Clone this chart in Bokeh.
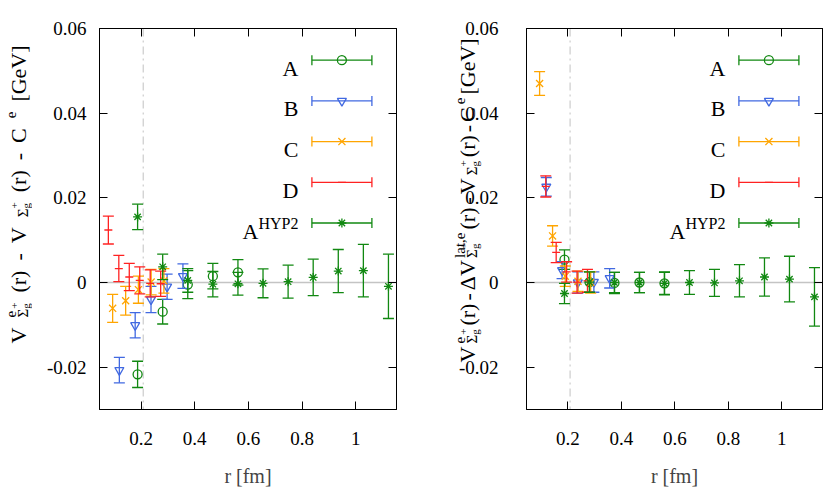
import math
from bokeh.plotting import figure
from bokeh.models import (Range1d, FixedTicker, CustomJSTickFormatter, LinearAxis,
                          Span, Label)
from bokeh.layouts import row
from bokeh.embed import file_html
from bokeh.resources import INLINE

# ---------------- data ----------------
r_A = [0.187, 0.2805, 0.374, 0.4675, 0.561]
r_B = [0.119, 0.178, 0.237, 0.297, 0.356]
r_C = [0.094, 0.1425, 0.190, 0.2375, 0.285]
r_D = [0.078, 0.117, 0.156, 0.195, 0.234, 0.273]
r_D_right = [0.117, 0.156, 0.195, 0.234, 0.273]
r_H = [0.187, 0.2805, 0.374, 0.4675, 0.561, 0.6545, 0.748, 0.8415, 0.935, 1.0285, 1.122]

# left panel
yA_L = [-0.0217, -0.0069, -0.0005, 0.0015, 0.0024]
eA_L = [0.0031, 0.0029, 0.0033, 0.0030, 0.0030]
yB_L = [-0.0207, -0.0101, -0.0040, -0.0010, 0.0015]
eB_L = [0.0030, 0.0030, 0.0031, 0.0030, 0.0029]
yC_L = [-0.0061, -0.0043, -0.0017, 0.0001, 0.0004]
eC_L = [0.0033, 0.0034, 0.0032, 0.0030, 0.0029]
yD_L = [0.0124, 0.0033, 0.0013, 0.0005, -0.0002, -0.0003]
eD_L = [0.0033, 0.0031, 0.0032, 0.0032, 0.0032, 0.0030]
yH_L = [0.0155, 0.0037, 0.0005, -0.0004, -0.0003, -0.0002, 0.0002, 0.0012, 0.0027, 0.0028, -0.0009]
eH_L = [0.0030, 0.0030, 0.0028, 0.0030, 0.0027, 0.0034, 0.0039, 0.0043, 0.0051, 0.0062, 0.0076]

# right panel
yA_R = [0.0054, 0.0001, -0.0001, 0.0000, -0.0002]
eA_R = [0.0023, 0.0024, 0.0025, 0.0024, 0.0026]
yB_R = [0.0226, 0.0029, 0.0000, 0.0001, 0.0010]
eB_R = [0.0022, 0.0020, 0.0025, 0.0024, 0.0023]
yC_R = [0.0470, 0.0110, 0.0015, 0.0003, 0.0000]
eC_R = [0.0028, 0.0024, 0.0024, 0.0024, 0.0025]
yD_R = [0.0227, 0.0071, 0.0025, 0.0001, 0.0004]
eD_R = [0.0025, 0.0024, 0.0024, 0.0026, 0.0027]
yH_R = [-0.0026, 0.0001, 0.0000, 0.0000, -0.0002, 0.0000, -0.0001, 0.0004, 0.0013, 0.0008, -0.0034]
eH_R = [0.0024, 0.0024, 0.0024, 0.0024, 0.0027, 0.0028, 0.0032, 0.0038, 0.0045, 0.0054, 0.0069]

x_ticks = [0.2, 0.4, 0.6, 0.8, 1.0]
y_ticks = [-0.02, 0.0, 0.02, 0.04, 0.06]
y_tick_labels = ["-0.02", "0", "0.02", "0.04", "0.06"]
cut_r = 0.208

# ---------------- styles ----------------
FONT = "Liberation Serif"
COL = {"A": "#118811", "B": "#4169e1", "C": "#ffa500", "D": "#ff2222", "H": "#118811"}
MARK = {"A": "circle", "B": "inverted_triangle", "C": "x", "D": "dash", "H": "asterisk"}
MSIZE = {"A": 9, "B": 9, "C": 10, "D": 8, "H": 9}

X0, X1 = 0.045, 1.152
Y0, Y1 = -0.03, 0.06
H_FIG = 498
TOP, BOT = 28, 89
FRAME_H = H_FIG - TOP - BOT

W = {'V': .722, 'e': .444, '(': .333, 'r': .333, ')': .333, ' ': .25, '-': .333, 'C': .667,
     '[': .333, 'G': .722, ']': .333, 'Σ': .592, 'g': .5, '+': .564, 'Δ': .612, 'l': .278,
     'a': .444, 't': .278, ',': .25, 'H': .722, 'Y': .722, 'P': .556, '2': .5, 'A': .722}


def tw(s, size):
    return sum(W.get(c, .5) for c in s) * size


def no_frame_align(f):
    if "frame_align" in f.properties():
        f.frame_align = False


def style_axis(ax, ticks, labels=True):
    ax.ticker = FixedTicker(ticks=ticks, minor_ticks=[])
    ax.major_tick_in = 8
    ax.major_tick_out = 0
    ax.minor_tick_in = 0
    ax.minor_tick_out = 0
    ax.axis_line_color = "black"
    ax.major_tick_line_color = "black"
    ax.axis_line_width = 1
    if labels:
        ax.formatter = CustomJSTickFormatter(code="return String(parseFloat(tick.toFixed(4)));")
        ax.major_label_text_font = FONT
        ax.major_label_text_font_size = "19px"
        ax.major_label_text_color = "black"
    else:
        ax.major_label_text_font_size = "0px"
        ax.major_label_text_color = None
        ax.major_label_standoff = 0


def make_fig(width, bl, br, ylabels=True):
    p = figure(width=width, height=H_FIG, x_range=Range1d(X0, X1), y_range=Range1d(Y0, Y1),
               output_backend="svg", toolbar_location=None,
               min_border_left=bl, min_border_right=br, min_border_top=TOP, min_border_bottom=BOT)
    no_frame_align(p)
    p.grid.visible = False
    p.outline_line_color = "black"
    p.outline_line_width = 1
    p.background_fill_color = "white"
    p.border_fill_color = "white"
    style_axis(p.xaxis[0], x_ticks)
    style_axis(p.yaxis[0], y_ticks, labels=ylabels)
    p.xaxis[0].major_label_standoff = 22
    if ylabels:
        p.yaxis[0].major_label_standoff = 13
    p.xaxis[0].axis_label = "r [fm]"
    p.xaxis[0].axis_label_text_font = FONT
    p.xaxis[0].axis_label_text_font_size = "20px"
    p.xaxis[0].axis_label_text_font_style = "normal"
    p.xaxis[0].axis_label_standoff = 17
    top = LinearAxis()
    style_axis(top, x_ticks, labels=False)
    p.add_layout(top, "above")
    right = LinearAxis()
    style_axis(right, y_ticks, labels=False)
    p.add_layout(right, "right")
    p.add_layout(Span(location=0, dimension="width", line_color="#c4c4c4", line_width=1.5, level="underlay"))
    p.add_layout(Span(location=cut_r, dimension="height", line_color="#cccccc", line_width=1.2,
                      line_dash="8 4 2 4", level="underlay"))
    return p


def make_label_fig(width):
    f = figure(width=width, height=H_FIG, x_range=Range1d(0, width), y_range=Range1d(0, H_FIG),
               output_backend="svg", toolbar_location=None, x_axis_location=None, y_axis_location=None,
               min_border_left=0, min_border_right=0, min_border_top=0, min_border_bottom=0)
    no_frame_align(f)
    f.grid.visible = False
    f.outline_line_color = None
    f.background_fill_color = "white"
    f.border_fill_color = "white"
    return f


def add_series(p, key, r, y, e):
    c = COL[key]
    lo = [a - b for a, b in zip(y, e)]
    hi = [a + b for a, b in zip(y, e)]
    p.segment(x0=r, y0=lo, x1=r, y1=hi, line_color=c, line_width=1.3)
    p.scatter(x=r, y=lo, marker="dash", size=11, line_color=c, line_width=1.3)
    p.scatter(x=r, y=hi, marker="dash", size=11, line_color=c, line_width=1.3)
    if key in ("A", "B"):
        p.scatter(x=r, y=y, marker=MARK[key], size=MSIZE[key], fill_color=None, line_color=c, line_width=1.3)
    else:
        p.scatter(x=r, y=y, marker=MARK[key], size=MSIZE[key], line_color=c, line_width=1.3)


def add_legend(p, frame_w):
    keys = ["A", "B", "C", "D", "H"]
    fw = X1 - X0
    fh = Y1 - Y0
    for k, key in enumerate(keys):
        c = COL[key]
        yy = Y1 - (31.7 + 40.7 * k) / FRAME_H * fh
        xa = X0 + 212.4 / frame_w * fw
        xb = X0 + 272.4 / frame_w * fw
        xm = 0.5 * (xa + xb)
        xt = X0 + 199.0 / frame_w * fw
        p.segment(x0=[xa], y0=[yy], x1=[xb], y1=[yy], line_color=c, line_width=1.3)
        p.scatter(x=[xa, xb], y=[yy, yy], marker="dash", angle=math.pi / 2, size=10, line_color=c, line_width=1.3)
        if key in ("A", "B"):
            p.scatter(x=[xm], y=[yy], marker=MARK[key], size=MSIZE[key], fill_color=None, line_color=c, line_width=1.3)
        else:
            p.scatter(x=[xm], y=[yy], marker=MARK[key], size=MSIZE[key], line_color=c, line_width=1.3)
        if key != "H":
            p.add_layout(Label(x=xt, y=yy, text=key, text_align="right", text_baseline="alphabetic",
                               y_offset=-8, text_font=FONT, text_font_size="22px", text_color="black"))
        else:
            p.add_layout(Label(x=xt, y=yy, text="HYP2", text_align="right", text_baseline="alphabetic",
                               y_offset=0, text_font=FONT, text_font_size="16px", text_color="black"))
            p.add_layout(Label(x=xt, y=yy, text="A", text_align="right", text_baseline="alphabetic",
                               x_offset=-tw("HYP2", 16), y_offset=-8, text_font=FONT, text_font_size="22px",
                               text_color="black"))


def rot_label(f, x_base, y_start, seq, gap=0.0):
    # data units of the label figure are canvas pixels (y upwards)
    y = y_start
    for grp in seq:
        adv = 0
        for (txt, size, rise, off) in grp:
            f.add_layout(Label(x=x_base - rise, y=y + off, text=txt,
                               angle=math.pi / 2, text_font=FONT, text_font_size=f"{size}px",
                               text_align="left", text_baseline="alphabetic", text_color="black"))
            adv = max(adv, off + tw(txt, size))
        y += adv + gap


M, S, SS = 22, 15, 11


def sig_group(sup=None):
    g = []
    if sup:
        g.append((sup, S, 8, 0))
    g.append(("Σ", S, -4, 0))
    g.append(("g", SS, -7, tw("Σ", S)))
    g.append(("+", SS, 4, tw("Σ", S)))
    return g


left_label = [[("V", M, 0, 0)], sig_group("e"), [("(r)", M, 0, 0)], [("-", M, 0, 0)], [("V", M, 0, 0)],
              sig_group(), [("(r)", M, 0, 0)], [("-", M, 0, 0)], [("C", M, 0, 0)], [("e", S, 8, 0)],
              [("[GeV]", M, 0, 0)]]
right_label = [[("V", M, 0, 0)], sig_group("e"), [("(r)", M, 0, 0)], [("-", M, 0, 0)], [("ΔV", M, 0, 0)],
               sig_group("lat,e"), [("(r)", M, 0, 0)], [("-", M, 0, 0)], [("V", M, 0, 0)], sig_group(),
               [("(r)", M, 0, 0)], [("-", M, 0, 0)], [("C", M, 0, 0)], [("e", S, 8, 0)],
               [("[GeV]", M, 0, 0)]]

# ---------------- build ----------------
# page columns: L1 0-32 | p1 32-420 (frame 99-396) | L2 420-520 | p2 520-830 (frame 526-822)
L1 = make_label_fig(32)
p1 = make_fig(388, 67, 24)
L2 = make_label_fig(100)
p2 = make_fig(310, 6, 8, ylabels=False)

for p, fw_px, data, rD in ((p1, 297, [(yA_L, eA_L), (yB_L, eB_L), (yC_L, eC_L), (yD_L, eD_L), (yH_L, eH_L)], r_D),
                           (p2, 296, [(yA_R, eA_R), (yB_R, eB_R), (yC_R, eC_R), (yD_R, eD_R), (yH_R, eH_R)], r_D_right)):
    rs = [r_A, r_B, r_C, rD, r_H]
    for key, rr, (yy, ee) in zip(["A", "B", "C", "D", "H"], rs, data):
        add_series(p, key, rr, yy, ee)
    add_legend(p, fw_px)

rot_label(L1, 18, H_FIG - 343, left_label, gap=10.0)
rot_label(L2, 47, H_FIG - 362, right_label, gap=3.0)

# tick labels of the right panel's y axis, drawn in the strip left of its frame
for t, s in zip(y_ticks, y_tick_labels):
    sy = H_FIG - (TOP + (Y1 - t) / (Y1 - Y0) * FRAME_H)
    L2.add_layout(Label(x=78, y=sy, text=s, text_align="right", text_baseline="middle",
                        text_font=FONT, text_font_size="19px", text_color="black"))

layout = row(L1, p1, L2, p2)
open("out.html", "w").write(file_html(layout, INLINE))
